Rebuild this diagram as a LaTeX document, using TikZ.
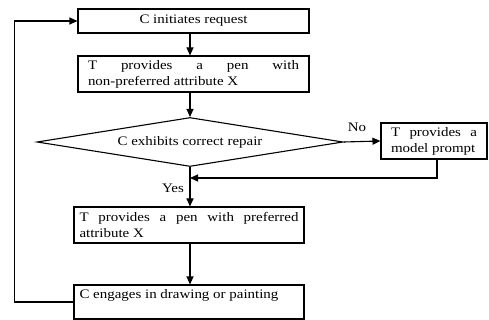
\documentclass[tikz,border=0pt]{standalone}
\usepackage{fontspec}
\setmainfont[FakeStretch=1.15]{Liberation Serif}
\usetikzlibrary{shapes.geometric,arrows.meta}
\begin{document}
\begin{tikzpicture}[x=1pt,y=-1pt,
  line width=1.1pt,
  every node/.style={font=\fontsize{13}{16}\selectfont},
  box/.style={draw,rectangle,inner ysep=1pt,align=justify},
  arr/.style={-{Triangle[length=8pt,width=7pt]}},
  lbl/.style={inner sep=0pt}]
\useasboundingbox (0,0) rectangle (489,320);
\node[box,minimum width=231pt,minimum height=24pt,align=center] (b1) at (193.5,21) {C initiates request};
\node[box,minimum width=231pt,minimum height=36pt,inner xsep=10pt,text width=211pt] (b2) at (193.5,74)
  {T provides a pen with\linebreak non-preferred attribute X};
\node[draw,diamond,aspect=6.2,inner sep=0pt,minimum width=306pt,minimum height=49pt] (dia) at (190,142)
  {C exhibits correct repair};
\node[box,minimum width=106pt,minimum height=36pt,inner xsep=10pt,text width=86pt] (mp) at (434,141)
  {T provides a\linebreak model prompt};
\node[box,minimum width=230pt,minimum height=36pt,inner xsep=2pt,text width=219pt] (b3) at (189,225)
  {T provides a pen with preferred\linebreak attribute X};
\node[box,minimum width=230pt,minimum height=34pt,inner xsep=2pt,text width=219pt] (b4) at (189,302)
  {C engages in drawing or painting\par\mbox{}};
\coordinate (ret) at (437,178);
\coordinate (j) at (190,178);
\draw[arr] (b1.south -| dia) -- (b2.north -| dia);
\draw[arr] (b2.south -| dia) -- (dia.north);
\draw[arr] (dia.south) -- (b3.north -| dia);
\draw[arr] (b3.south -| dia) -- (b4.north -| dia);
\draw[arr] (dia.east) -- (mp.west);
\draw[arr] (mp.south -| ret) -- (ret) -- (j);
\draw[arr] (b4.west) -- ++(-59,0) |- (b1.west);
\node[lbl] (yes) at (173,188) {Yes};
\node[lbl] (no) at (357,127) {No};
\end{tikzpicture}
\end{document}
